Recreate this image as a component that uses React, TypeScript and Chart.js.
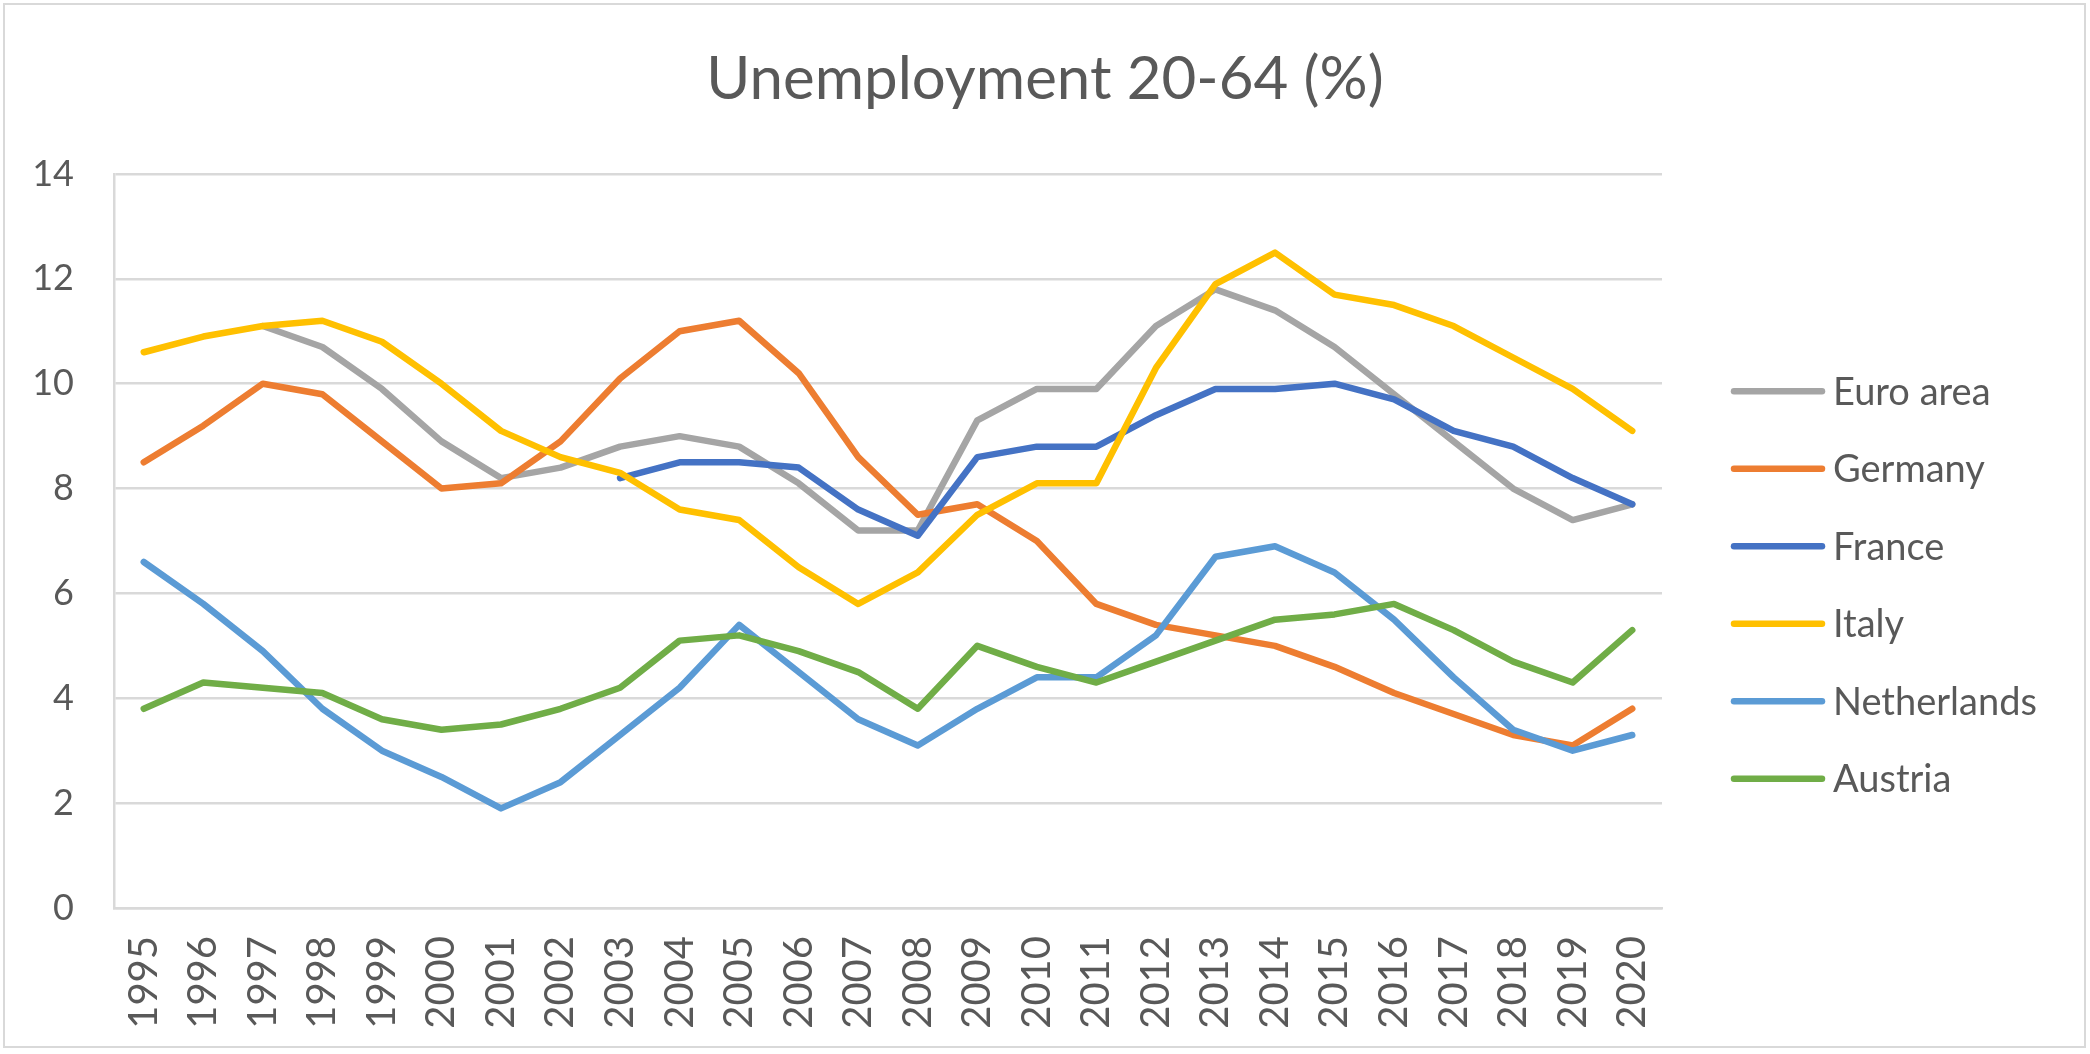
import React, { useEffect, useRef } from "react";
import { Chart, registerables } from "chart.js";

Chart.register(...registerables);

const years = [
  "1995", "1996", "1997", "1998", "1999", "2000", "2001", "2002", "2003", "2004",
  "2005", "2006", "2007", "2008", "2009", "2010", "2011", "2012", "2013", "2014",
  "2015", "2016", "2017", "2018", "2019", "2020",
];

const euroArea = [null, null, 11.1, 10.7, 9.9, 8.9, 8.2, 8.4, 8.8, 9.0, 8.8, 8.1, 7.2, 7.2, 9.3, 9.9, 9.9, 11.1, 11.8, 11.4, 10.7, 9.8, 8.9, 8.0, 7.4, 7.7];
const germany = [8.5, 9.2, 10.0, 9.8, 8.9, 8.0, 8.1, 8.9, 10.1, 11.0, 11.2, 10.2, 8.6, 7.5, 7.7, 7.0, 5.8, 5.4, 5.2, 5.0, 4.6, 4.1, 3.7, 3.3, 3.1, 3.8];
const france = [null, null, null, null, null, null, null, null, 8.2, 8.5, 8.5, 8.4, 7.6, 7.1, 8.6, 8.8, 8.8, 9.4, 9.9, 9.9, 10.0, 9.7, 9.1, 8.8, 8.2, 7.7];
const italy = [10.6, 10.9, 11.1, 11.2, 10.8, 10.0, 9.1, 8.6, 8.3, 7.6, 7.4, 6.5, 5.8, 6.4, 7.5, 8.1, 8.1, 10.3, 11.9, 12.5, 11.7, 11.5, 11.1, 10.5, 9.9, 9.1];
const netherlands = [6.6, 5.8, 4.9, 3.8, 3.0, 2.5, 1.9, 2.4, 3.3, 4.2, 5.4, 4.5, 3.6, 3.1, 3.8, 4.4, 4.4, 5.2, 6.7, 6.9, 6.4, 5.5, 4.4, 3.4, 3.0, 3.3];
const austria = [3.8, 4.3, 4.2, 4.1, 3.6, 3.4, 3.5, 3.8, 4.2, 5.1, 5.2, 4.9, 4.5, 3.8, 5.0, 4.6, 4.3, 4.7, 5.1, 5.5, 5.6, 5.8, 5.3, 4.7, 4.3, 5.3];

const seriesNames = ["Euro area", "Germany", "France", "Italy", "Netherlands", "Austria"];
const seriesColors = ["#A5A5A5", "#ED7D31", "#4472C4", "#FFC000", "#5B9BD5", "#70AD47"];
const seriesValues = [euroArea, germany, france, italy, netherlands, austria];

const titleText = "Unemployment 20-64 (%)";
const textColor = "#595959";
const gridColor = "#d9d9d9";
const FONT = "Lato, 'Open Sans', sans-serif";

const sideLegend = {
  id: "sideLegend",
  afterDraw(chart: any) {
    const { ctx, chartArea } = chart;
    const rowGap = 77.5;
    const n = chart.data.datasets.length;
    const centerY = (chartArea.top + chartArea.bottom) / 2 + 44;
    const x0 = chartArea.right + 72;
    const lineLen = 88;
    ctx.save();
    ctx.font = `38px ${FONT}`;
    ctx.textBaseline = "middle";
    ctx.textAlign = "left";
    chart.data.datasets.forEach((ds: any, i: number) => {
      const y = centerY + (i - (n - 1) / 2) * rowGap;
      ctx.beginPath();
      ctx.strokeStyle = ds.borderColor;
      ctx.lineWidth = 6.5;
      ctx.lineCap = "round";
      ctx.moveTo(x0, y);
      ctx.lineTo(x0 + lineLen, y);
      ctx.stroke();
      ctx.fillStyle = textColor;
      ctx.fillText(ds.label, x0 + lineLen + 11, y + 1);
    });
    ctx.restore();
  },
};

export default function App() {
  const canvasRef = useRef<HTMLCanvasElement | null>(null);

  useEffect(() => {
    const canvas = canvasRef.current;
    if (!canvas) return;
    const chart = new Chart(canvas, {
      type: "line",
      data: {
        labels: years,
        datasets: seriesNames.map((name, i) => ({
          label: name,
          data: seriesValues[i],
          borderColor: seriesColors[i],
          backgroundColor: seriesColors[i],
          borderWidth: 6.5,
          pointRadius: 0,
          pointHoverRadius: 0,
          tension: 0,
          fill: false,
          spanGaps: false,
          borderCapStyle: "round",
          borderJoinStyle: "round",
          order: seriesNames.length - i,
        })),
      },
      options: {
        responsive: false,
        animation: false,
        devicePixelRatio: 1,
        events: [],
        layout: { padding: { left: 0, right: 0, top: 0, bottom: 0 } },
        plugins: {
          legend: { display: false },
          tooltip: { enabled: false },
          title: {
            display: true,
            text: titleText,
            color: textColor,
            font: { family: FONT, size: 60, weight: "normal", lineHeight: 1.2 },
            padding: { top: 44, bottom: 58 },
          },
        },
        scales: {
          x: {
            offset: true,
            grid: { display: false, drawTicks: false },
            border: { display: true, color: gridColor, width: 2.5 },
            ticks: {
              color: textColor,
              font: { family: FONT, size: 40 },
              minRotation: 90,
              maxRotation: 90,
              padding: 28,
              autoSkip: false,
            },
            afterFit: (scale: any) => {
              scale.height = 146;
            },
          },
          y: {
            min: 0,
            max: 14,
            grid: { color: gridColor, lineWidth: 2.5, drawTicks: false },
            border: { display: true, color: gridColor, width: 2.5 },
            ticks: {
              stepSize: 2,
              color: textColor,
              font: { family: FONT, size: 36 },
              padding: 40,
            },
            afterFit: (scale: any) => {
              scale.width = 114;
            },
          },
          legendSpace: {
            type: "linear",
            position: "right",
            display: true,
            grid: { display: false, drawTicks: false },
            border: { display: false },
            ticks: { display: false },
            afterFit: (scale: any) => {
              scale.width = 428;
            },
          },
        },
      },
      plugins: [sideLegend],
    });
    return () => chart.destroy();
  }, []);

  return (
    <div style={{ position: "fixed", left: 0, top: 0, width: 2090, height: 1054, background: "#fff" }}>
      <div
        style={{
          position: "absolute",
          left: 3,
          top: 3,
          width: 2083,
          height: 1045,
          boxSizing: "border-box",
          border: "2px solid #d9d9d9",
        }}
      />
      <canvas
        ref={canvasRef}
        width={2090}
        height={1054}
        style={{ position: "absolute", left: 0, top: 0, width: 2090, height: 1054 }}
      />
    </div>
  );
}
